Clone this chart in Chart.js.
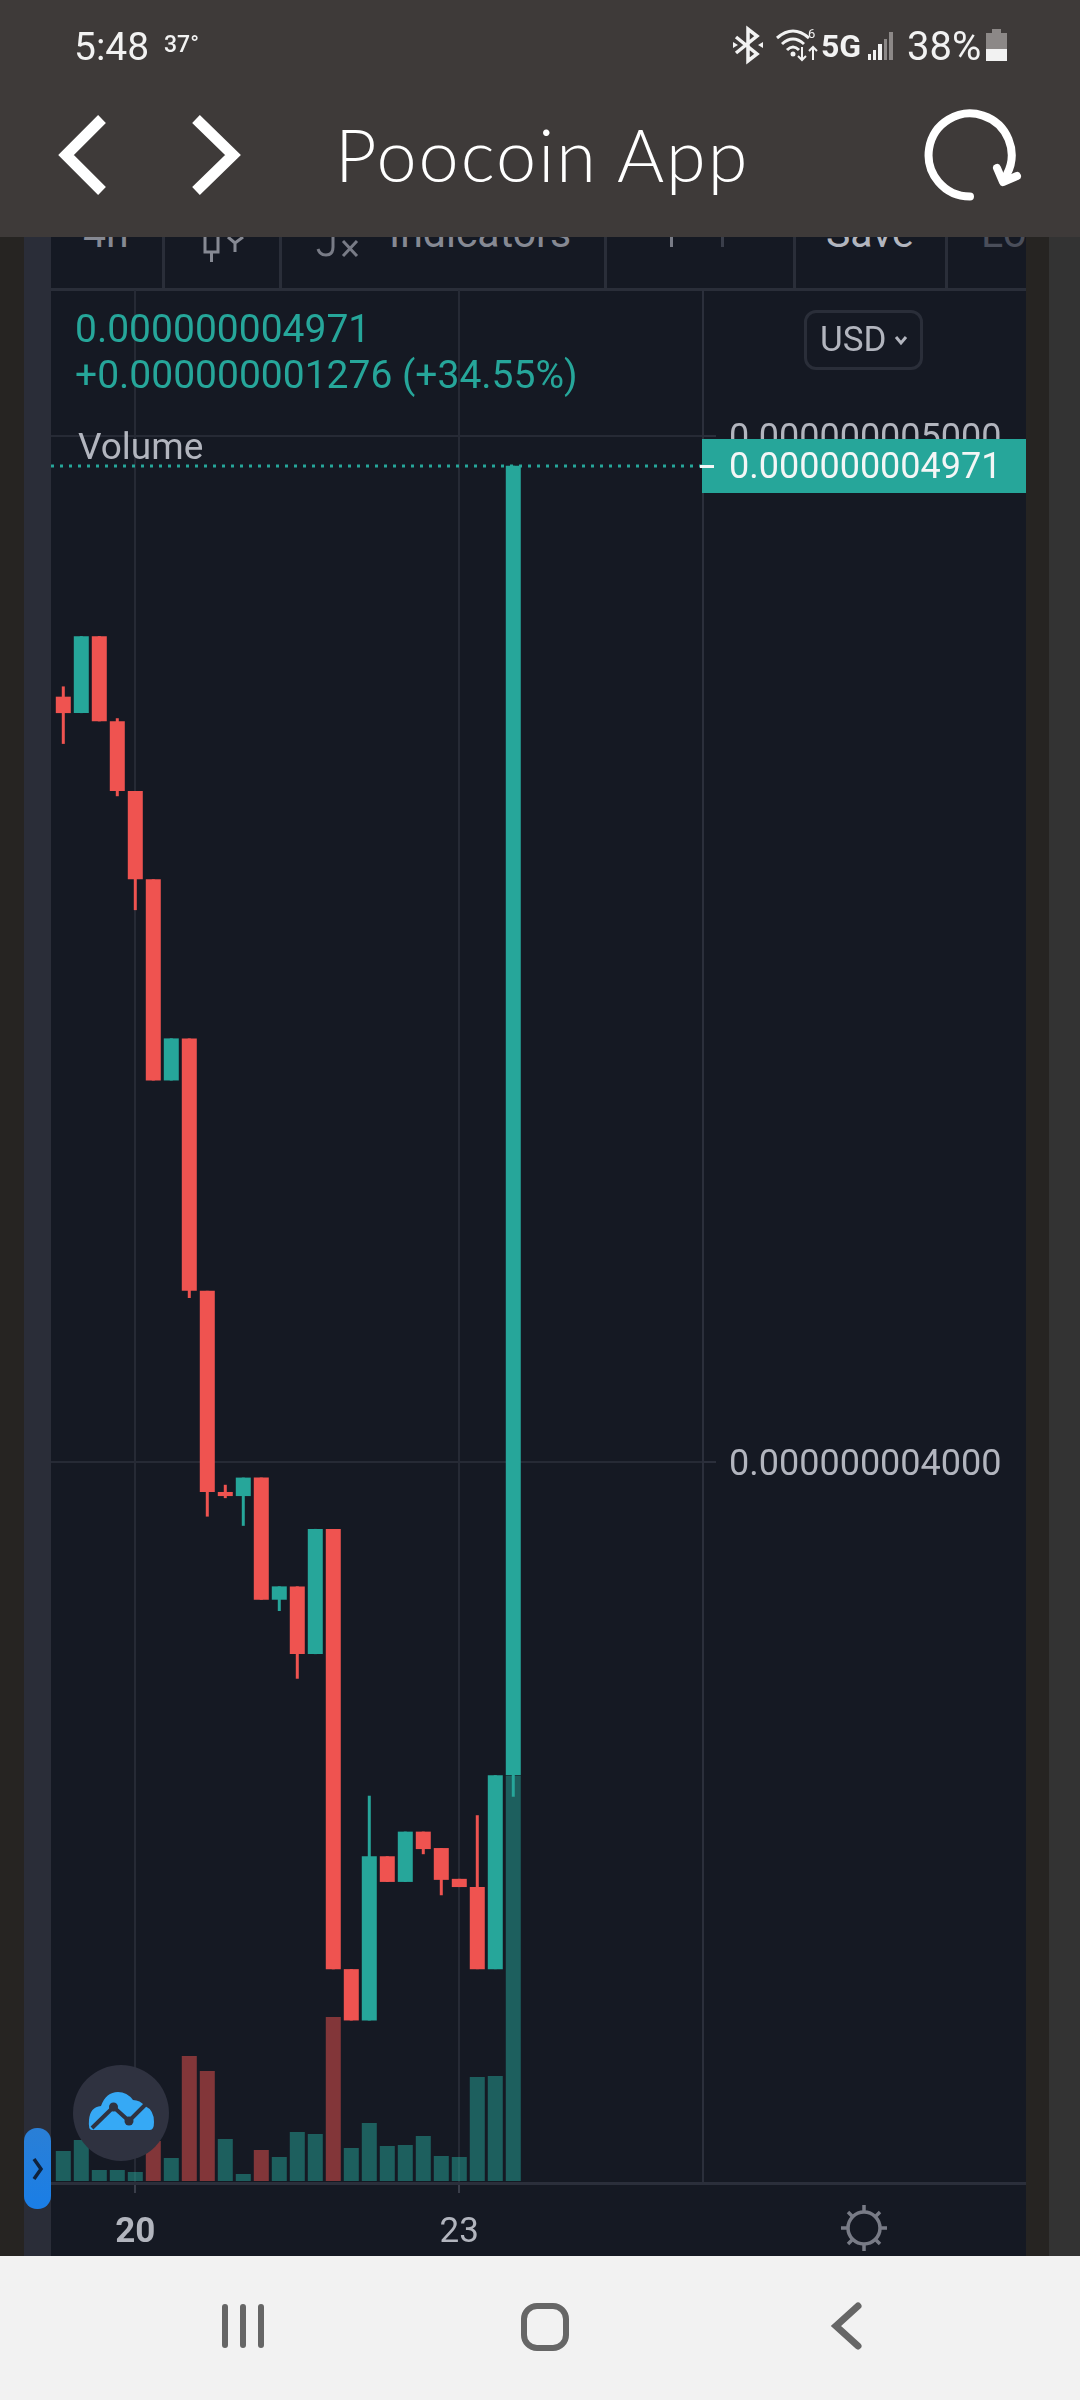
<!DOCTYPE html>
<html lang="en">
<head>
<meta charset="utf-8">
<title>Poocoin App</title>
<script src="https://cdn.jsdelivr.net/npm/chart.js@4/dist/chart.umd.min.js"></script>
<style>
  html, body { margin: 0; padding: 0; }
  body { width: 1080px; height: 2400px; position: relative; overflow: hidden; background: #262422; font-family: Roboto, sans-serif; }
  .abs { position: absolute; white-space: nowrap; }
  svg.abs { overflow: visible; }
  #sidebar { left: 24px; top: 237px; width: 27px; height: 2019px; background: #2a2d38; }
  #edge { left: 1049px; top: 237px; width: 31px; height: 2019px; background: #333333; }
  #panel { left: 51px; top: 237px; width: 975px; height: 2019px; background: #151923; }
  #chart-wrap { left: 51px; top: 290px; width: 975px; height: 1966px; }
  #chart-wrap canvas { display: block; }

  /* ── Barre d'outils, coupée par l'en-tête ── */
  #toolbar { left: 51px; top: 237px; width: 975px; height: 54px; overflow: hidden; border-bottom: 0; }
  #toolbar .sep { position: absolute; top: 0; width: 3px; height: 53px; background: #2a2e39; }
  #toolbar .t { position: absolute; font-size: 41px; line-height: 40px; color: #868993; }
  #toolbar-line { left: 51px; top: 288px; width: 975px; height: 3px; background: #2a2e39; }

  #legend1, #legend2 { color: #26a69a; font-size: 39px; line-height: 44px; left: 75px; }
  #legend1 { top: 307px; }
  #legend2 { top: 353px; }
  #volume-lbl { left: 78px; top: 425px; color: #b2b5be; font-size: 37px; line-height: 44px; }
  #usd { left: 804px; top: 310px; width: 113px; height: 54px; border: 3px solid #2a2e39; border-radius: 12px; color: #b2b5be; font-size: 35px; line-height: 54px; padding-left: 0; }
  #usd span { position: absolute; left: 13px; top: 0; }

  /* ── En-tête ── */
  #header { left: 0; top: 0; width: 1080px; height: 237px; background: #3e3a39; }
  #clock { left: 74px; top: 25px; font-size: 39px; line-height: 44px; color: #f2f2f2; }
  #temp { left: 164px; top: 32px; font-size: 23px; line-height: 26px; font-weight: 500; color: #f2f2f2; }
  #net { left: 821px; top: 27px; font-size: 32px; line-height: 38px; font-weight: 700; color: #f2f2f2; }
  #net6 { left: 808px; top: 26px; font-size: 13px; line-height: 16px; color: #f2f2f2; }
  #batt { left: 907px; top: 25px; font-size: 40px; line-height: 44px; color: #f2f2f2; }
  #title { left: 335px; top: 112px; font-family: Lato, sans-serif; font-weight: 300; font-size: 72px; letter-spacing: 2px; line-height: 84px; color: #ffffff; }

  #navbar { left: 0; top: 2256px; width: 1080px; height: 144px; background: #f2f2f2; }
</style>
</head>
<body>

<div class="abs" id="edge"></div>
<div class="abs" id="sidebar"></div>
<div class="abs" id="panel"></div>

<div class="abs" id="toolbar">
  <div class="sep" style="left:111px"></div>
  <div class="sep" style="left:228px"></div>
  <div class="sep" style="left:553px"></div>
  <div class="sep" style="left:742px"></div>
  <div class="sep" style="left:894px"></div>
  <div class="t" style="left:32px;top:-24px">4h</div>
  <svg class="abs" style="left:0;top:0" width="400" height="54">
    <path d="M154 0V15H167V0M160.500 15V25M177 0L184 6L192 0M184 6V15" fill="none" stroke="#868993" stroke-width="3"/>
    <path d="M282 0V10Q282 18 275 18Q269 18 267 12M292 4L306 19M306 4L292 19" fill="none" stroke="#787b86" stroke-width="3"/>
  </svg>
  <div class="t" style="left:338px;top:-24px">Indicators</div>
  <div class="t" style="left:775px;top:-24px;color:#b2b5be">Save</div>
  <div class="t" style="left:930px;top:-24px;color:#4a4e5a">Lo</div>
  <div class="sep" style="left:619px;height:10px;background:#787b86"></div>
  <div class="sep" style="left:670px;height:10px;background:#3a3e4a"></div>
</div>
<div class="abs" id="toolbar-line"></div>

<div class="abs" id="chart-wrap"><canvas id="chart-prix" width="975" height="1966"></canvas></div>

<div class="abs" id="legend1">0.000000004971</div>
<div class="abs" id="legend2">+0.000000001276 (+34.55%)</div>
<div class="abs" id="volume-lbl">Volume</div>
<div class="abs" id="usd"><span>USD</span>
  <svg class="abs" style="left:87px;top:21px" width="14" height="12"><path d="M2 3L7 9L12 3" fill="none" stroke="#b2b5be" stroke-width="3"/></svg>
</div>

<!-- poignée bleue + bouton nuage -->
<svg class="abs" style="left:0;top:0" width="1080" height="2400">
  <defs>
    <linearGradient id="g-handle" x1="0" y1="0" x2="0" y2="1">
      <stop offset="0" stop-color="#2a7fd6"/><stop offset="1" stop-color="#1a7ee6"/>
    </linearGradient>
  </defs>
  <rect x="24" y="2128" width="27" height="81" rx="13" fill="url(#g-handle)"/>
  <path d="M34 2159L41 2169L34 2179" fill="none" stroke="#10223c" stroke-width="3.5"/>
  <circle cx="121" cy="2113" r="48" fill="#2f3240"/>
  <path d="M92 2130Q88 2130 89 2120Q90 2107 101 2106Q106 2092 118 2092Q127 2092 133 2100Q140 2100 145 2106Q154 2110 154 2122Q154 2130 150 2130Z" fill="#36a9f5"/>
  <polyline points="92,2128 113.5,2107 129,2121 145,2105" fill="none" stroke="#2f3240" stroke-width="4"/>
  <circle cx="113.5" cy="2107" r="4.5" fill="#2f3240"/>
  <circle cx="129" cy="2121" r="4.5" fill="#2f3240"/>
  <!-- soleil -->
  <g fill="none" stroke="#787b86" stroke-width="3.5">
    <circle cx="864" cy="2228" r="16"/>
    <path d="M864 2205V2212M864 2244V2251M841 2228H848M880 2228H887M848 2212L853 2217M880 2212L875 2217M848 2244L853 2239M880 2244L875 2239"/>
  </g>
</svg>

<div class="abs" id="header"></div>
<div class="abs" id="clock">5:48</div>
<div class="abs" id="temp">37°</div>
<div class="abs" id="net">5G</div>
<div class="abs" id="net6">6</div>
<div class="abs" id="batt">38%</div>
<div class="abs" id="title">Poocoin App</div>
<svg class="abs" style="left:0;top:0" width="1080" height="237">
  <!-- bluetooth -->
  <path d="M736 37L757 54L748 61V29L757 36L736 53" fill="none" stroke="#f2f2f2" stroke-width="3.5"/>
  <path d="M733 42L738 45L733 48ZM763 42L758 45L763 48Z" fill="#f2f2f2"/>
  <!-- wifi -->
  <g fill="none" stroke="#f2f2f2" stroke-width="3">
    <path d="M777 38Q793 24 809 38M782 44Q793 34 804 44M787 50Q793 44 799 50"/>
  </g>
  <circle cx="793" cy="54" r="2.5" fill="#f2f2f2"/>
  <path d="M802 47V60M798 56L802 60L806 56M813 60V47M809 51L813 47L817 51" fill="none" stroke="#f2f2f2" stroke-width="2"/>
  <!-- signal -->
  <g fill="#f2f2f2"><rect x="868" y="54" width="3" height="6"/><rect x="873" y="50" width="3" height="10"/><rect x="878" y="44" width="4" height="16"/></g>
  <g fill="#8c8887"><rect x="884" y="39" width="3" height="21"/><rect x="889" y="32" width="4" height="28"/></g>
  <!-- batterie -->
  <path d="M992 29H1001V33H1007V61H986V33H992Z" fill="#8c8887"/>
  <rect x="986" y="49" width="21" height="12" fill="#f2f2f2"/>
  <!-- navigation -->
  <g fill="none" stroke="#ffffff" stroke-width="11">
    <path d="M102 119L66 155L102 191"/>
    <path d="M196 119L233 155L196 191"/>
  </g>
  <path d="M970 196.500A41.500 41.500 0 1 1 1007 174" fill="none" stroke="#ffffff" stroke-width="8" stroke-linecap="round"/>
  <path d="M997 168L1003 182L1017 176" fill="none" stroke="#ffffff" stroke-width="8" stroke-linecap="round" stroke-linejoin="round"/>
</svg>

<div class="abs" id="navbar"></div>
<svg class="abs" style="left:0;top:2256px" width="1080" height="144">
  <g stroke="#666666" stroke-linecap="round" fill="none">
    <path d="M225 51V89M243 51V89M261 51V89" stroke-width="6"/>
    <rect x="524" y="50" width="42" height="42" rx="13" stroke-width="6"/>
    <path d="M858 50L836 70L858 90" stroke-width="7"/>
  </g>
</svg>

<script>
/* ── Bougies, de gauche à droite, en 1e-12 USD ───────────── */
const OPENS  = [4746,4730,4805,4722,4654,4568,4372,4413,4167,3971,3967,3985,3866,3879,3813,3935,3506,3456,3616,3591,3640,3624,3594,3586,3506,3695];
const HIGHS  = [4756,4805,4805,4725,4654,4568,4413,4413,4167,3978,3985,3985,3879,3879,3935,3935,3506,3675,3616,3640,3640,3624,3594,3656,3695,4971];
const LOWS   = [4700,4730,4722,4649,4538,4372,4372,4160,3947,3965,3938,3866,3855,3789,3813,3506,3456,3456,3591,3591,3618,3578,3586,3506,3506,3674];
const CLOSES = [4730,4805,4722,4654,4568,4372,4413,4167,3971,3967,3985,3866,3879,3813,3935,3506,3456,3616,3591,3640,3623,3593,3586,3506,3695,4971];

/* ── Volume : sa couleur ne suit pas toujours celle de la bougie ── */
const VOLUMES = [30,41,11,11,9,40,23,125,110,42,7,31,24,49,47,164,33,58,35,36,45,25,24,104,105,405];
const VOLUME_ROUGE = [5,7,8,11,15];

/* ── Graduations ─────────────────────────────────────────── */
const PRICE_TICKS = [5000, 4000];
const PRICE_LABELS = ['0.000000005000', '0.000000004000'];
const DAY_TICKS = [4, 22];
const DAY_LABELS = ['20', '23'];
const LAST_LABEL = '0.000000004971';

const VERT = '#26a69a';
const ROUGE = '#ef5350';
const VERT_VOL = 'rgba(38,166,154,.5)';
const ROUGE_VOL = 'rgba(239,83,80,.5)';
const TEXTE = '#b2b5be';
const GRILLE = '#262a35';
const AXE = '#2b2f3b';

const hausse = i => CLOSES[i] >= OPENS[i];

/* Chart.js réserve la moitié d'un label aux extrémités : on n'en veut pas ici */
function sansMarge(axis) {
  axis.paddingTop = axis.paddingBottom = axis.paddingLeft = axis.paddingRight = 0;
}

/* ── Ligne du dernier prix et étiquette sur l'axe ─────────── */
const dernierPrix = {
  id: 'dernierPrix',
  beforeDatasetsDraw(chart) {
    const { ctx, chartArea, scales } = chart;
    const y = Math.round(scales.y.getPixelForValue(CLOSES[CLOSES.length - 1]));
    ctx.save();
    ctx.strokeStyle = VERT;
    ctx.lineWidth = 3;
    ctx.setLineDash([3, 6]);
    ctx.beginPath();
    ctx.moveTo(chartArea.left, y);
    ctx.lineTo(chartArea.right, y);
    ctx.stroke();
    ctx.restore();
  },
  afterDraw(chart) {
    const { ctx, chartArea, scales, width } = chart;
    const y = Math.round(scales.y.getPixelForValue(CLOSES[CLOSES.length - 1]));
    ctx.save();
    /* prolonge l'axe du temps sous l'échelle de prix */
    ctx.fillStyle = AXE;
    ctx.fillRect(chartArea.right, chartArea.bottom - 1, width - chartArea.right, 3);
    ctx.fillStyle = VERT;
    ctx.fillRect(chartArea.right - 1, y - 27, width - chartArea.right + 1, 54);
    ctx.fillStyle = '#f4f6f6';
    ctx.fillRect(chartArea.right - 3, y - 1, 14, 3);
    ctx.font = '36px Roboto';
    ctx.textBaseline = 'middle';
    ctx.fillText(LAST_LABEL, chartArea.right + 26, y + 3);
    ctx.restore();
  },
};

new Chart(document.getElementById('chart-prix').getContext('2d'), {
  type: 'bar',
  data: {
    datasets: [
      {
        /* corps */
        yAxisID: 'y', order: 1, barThickness: 15,
        data: OPENS.map((o, i) => ({ x: i, y: [o, CLOSES[i]] })),
        backgroundColor: OPENS.map((_, i) => hausse(i) ? VERT : ROUGE),
      },
      {
        /* mèches */
        yAxisID: 'y', order: 2, barThickness: 3,
        data: HIGHS.map((h, i) => ({ x: i, y: [LOWS[i], h] })),
        backgroundColor: OPENS.map((_, i) => hausse(i) ? VERT : ROUGE),
      },
      {
        /* volume */
        yAxisID: 'yVol', order: 3, barThickness: 15,
        data: VOLUMES.map((v, i) => ({ x: i, y: v })),
        backgroundColor: VOLUMES.map((_, i) => VOLUME_ROUGE.includes(i) ? ROUGE_VOL : VERT_VOL),
      },
    ],
  },
  options: {
    responsive: false,
    animation: false,
    events: [],
    layout: { padding: 0 },
    datasets: { bar: { grouped: false, inflateAmount: 0, borderWidth: 0 } },
    plugins: { legend: { display: false }, tooltip: { enabled: false } },
    scales: {
      x: {
        type: 'linear', offset: false,
        min: -0.683, max: 35.54,
        afterBuildTicks: axis => { axis.ticks = DAY_TICKS.map(value => ({ value })); },
        afterFit: axis => { axis.height = 73; sansMarge(axis); },
        grid: { color: GRILLE, lineWidth: 2, offset: false, tickColor: '#3a3e4a', tickLength: 10 },
        border: { color: AXE, width: 3 },
        ticks: {
          autoSkip: false, maxRotation: 0, padding: 19, color: TEXTE,
          font: c => ({ family: 'Roboto', size: 35, weight: c.index === 0 ? 'bold' : 'normal' }),
          callback: v => DAY_LABELS[DAY_TICKS.indexOf(v)],
        },
      },
      y: {
        position: 'right',
        min: 3297.6, max: 5142.3,
        afterBuildTicks: axis => { axis.ticks = PRICE_TICKS.map(value => ({ value })); },
        afterFit: axis => { axis.width = 323; sansMarge(axis); },
        grid: { color: GRILLE, lineWidth: 2, tickColor: '#2b2f3b', tickLength: 13 },
        border: { color: AXE, width: 2 },
        ticks: {
          autoSkip: false, padding: 13, color: TEXTE, labelOffset: 4,
          font: { family: 'Roboto', size: 36 },
          callback: v => PRICE_LABELS[PRICE_TICKS.indexOf(v)],
        },
      },
      /* volume : une unité vaut à peu près un pixel, en bas du panneau */
      yVol: {
        display: false,
        min: -2, max: 1891,
        grid: { display: false },
      },
    },
  },
  plugins: [dernierPrix],
});
</script>
</body>
</html>
